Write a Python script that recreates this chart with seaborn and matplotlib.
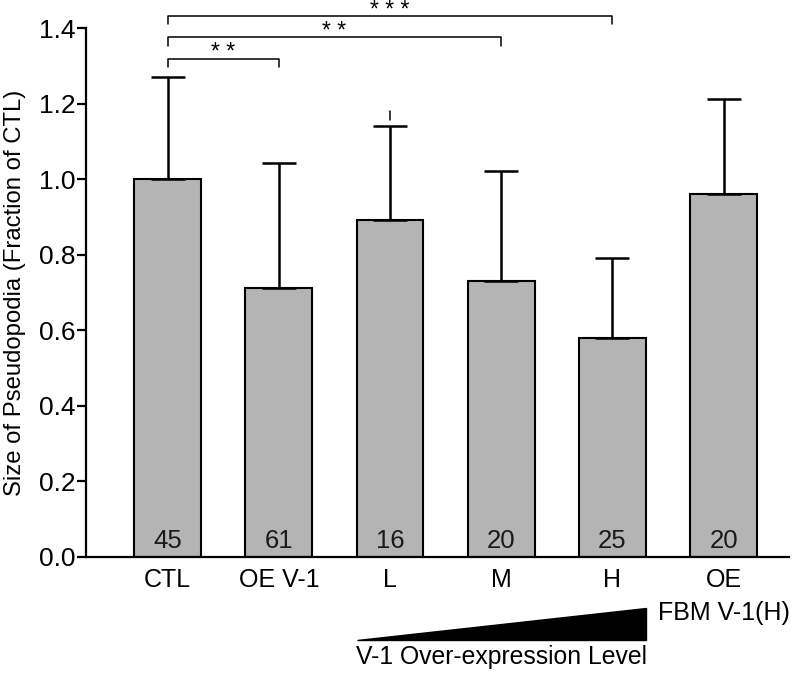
import matplotlib
matplotlib.use("Agg")
import matplotlib.pyplot as plt
import seaborn as sns
import pandas as pd

# ---- data ----
categories = ["CTL", "OE V-1", "L", "M", "H", "OE\nFBM V-1(H)"]
means = [1.00, 0.712, 0.891, 0.730, 0.579, 0.962]
errors_upper = [0.27, 0.33, 0.249, 0.291, 0.213, 0.249]
counts = [45, 61, 16, 20, 25, 20]
# significance brackets: (left index, right index, label)
sig_pairs = [(0, 4, "* * *"), (0, 3, "* *"), (0, 1, "* *")]
sig_heights = [1.432, 1.375, 1.319]
bracket_drop = 0.022
ramp_label = "V-1 Over-expression Level"
ylabel = "Size of Pseudopodia (Fraction of CTL)"

sns.set_theme(style="ticks")
plt.rcParams["font.family"] = ["Liberation Sans", "DejaVu Sans"]
plt.rcParams["text.color"] = "black"
plt.rcParams["xtick.color"] = "black"
plt.rcParams["ytick.color"] = "black"
plt.rcParams["axes.labelcolor"] = "black"
plt.rcParams["axes.edgecolor"] = "black"

fig = plt.figure(figsize=(7.93, 6.73), dpi=100)
ax = fig.add_axes([86 / 793, 1 - 557 / 673, 703 / 793, 529 / 673])

df = pd.DataFrame({"group": categories, "value": means})
sns.barplot(data=df, x="group", y="value", color="#b4b4b4", saturation=1,
            width=0.6, edgecolor="black", linewidth=1.5, errorbar=None, ax=ax)

xs = list(range(len(categories)))
ax.errorbar(xs, means, yerr=[[0] * len(means), errors_upper], fmt="none",
            ecolor="black", elinewidth=1.8, capsize=12, capthick=1.8, zorder=1)
# small stray dash above L
ax.plot([2, 2], [1.157, 1.180], color="black", lw=1.1, zorder=1)

for x, n in zip(xs, counts):
    ax.text(x, 0.023, str(n), ha="center", va="baseline", fontsize=18.5, color="#1a1a1a")

for (a, b, lab), h in zip(sig_pairs, sig_heights):
    ax.plot([a, a, b, b], [h - bracket_drop, h, h, h - bracket_drop],
            color="black", lw=1.1, clip_on=False)
    ax.text((a + b) / 2, h - 0.002, lab, ha="center", va="baseline",
            fontsize=16.5, clip_on=False)

# ramp triangle
ax.fill([1.7, 4.3, 4.3], [-0.220, -0.220, -0.135], color="black", clip_on=False)
ax.text(3.0, -0.265, ramp_label, ha="center", va="center", fontsize=17.8)

ax.set_xlim(-0.734, 5.588)
ax.set_ylim(0, 1.4)
ax.set_yticks([0, 0.2, 0.4, 0.6, 0.8, 1.0, 1.2, 1.4])
ax.set_yticklabels([f"{v:.1f}" for v in [0, 0.2, 0.4, 0.6, 0.8, 1.0, 1.2, 1.4]])
ax.set_xlabel("")
ax.set_ylabel(ylabel, fontsize=17.2, va="center")
ax.yaxis.set_label_coords(-0.101, 0.5)

for t in ax.get_xticklabels():
    t.set_linespacing(1.45)
ax.tick_params(axis="x", length=0, pad=8, labelsize=18)
ax.tick_params(axis="y", length=6.5, width=1.6, pad=1, labelsize=19, direction="out")
for s in ["top", "right"]:
    ax.spines[s].set_visible(False)
ax.spines["left"].set_linewidth(1.6)
ax.spines["bottom"].set_linewidth(1.6)

fig.savefig("out.png", dpi=100)
